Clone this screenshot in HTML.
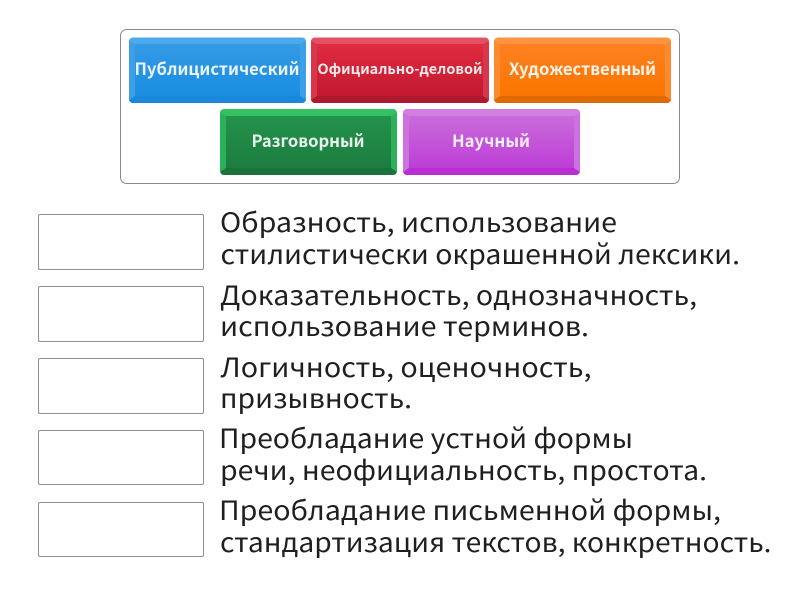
<!DOCTYPE html>
<html lang="ru"><head><meta charset="utf-8"><style>
html,body{margin:0;padding:0;background:#fff;width:800px;height:600px;overflow:hidden}
svg{display:block}
.t{font-family:"Noto Sans CJK SC","Liberation Sans",sans-serif;font-size:26.5px;fill:#1f1f1f}
.b{font-family:"Noto Sans CJK SC","Liberation Sans",sans-serif;font-weight:700;fill:#fff;fill-opacity:.9;font-size:16.5px;text-anchor:middle}
</style></head><body>
<svg width="800" height="600" viewBox="0 0 800 600" xmlns="http://www.w3.org/2000/svg">
<defs>
<linearGradient id="g1" x1="0" y1="0" x2="0" y2="1"><stop offset="0" stop-color="#359ae5"/><stop offset="1" stop-color="#1a8de2"/></linearGradient>
<linearGradient id="g2" x1="0" y1="0" x2="0" y2="1"><stop offset="0" stop-color="#e02a40"/><stop offset="1" stop-color="#c21a30"/></linearGradient>
<linearGradient id="g3" x1="0" y1="0" x2="0" y2="1"><stop offset="0" stop-color="#fd8122"/><stop offset="1" stop-color="#fb7600"/></linearGradient>
<linearGradient id="g4" x1="0" y1="0" x2="0" y2="1"><stop offset="0" stop-color="#23924b"/><stop offset="1" stop-color="#1c7d40"/></linearGradient>
<linearGradient id="g5" x1="0" y1="0" x2="0" y2="1"><stop offset="0" stop-color="#c96cdb"/><stop offset="1" stop-color="#bd3ed6"/></linearGradient>
</defs>
<rect x="120.500" y="29.500" width="559" height="154" rx="6" fill="#fff" stroke="#8a8a8a"/>

<!-- Button 1 -->
<rect x="129" y="37.500" width="177" height="65.500" rx="4" fill="#4ba9ec"/>
<path d="M129 96H306V99a4 4 0 0 1-4 4H133a4 4 0 0 1-4-4Z" fill="#1a88da"/>
<path d="M129 41L135 44V96L129 100Z" fill="#3c9fe8"/><path d="M306 41L300 44V96L306 100Z" fill="#3c9fe8"/>
<rect x="135" y="44" width="165" height="52" fill="url(#g1)"/>
<text class="b" x="217" y="75" textLength="165" lengthAdjust="spacingAndGlyphs">Публицистический</text>

<!-- Button 2 -->
<rect x="311" y="37.500" width="178" height="65.500" rx="4" fill="#e25164"/>
<path d="M311 96H489V99a4 4 0 0 1-4 4H315a4 4 0 0 1-4-4Z" fill="#ad1a2d"/>
<path d="M311 41L317 44V96L311 100Z" fill="#d9354b"/><path d="M489 41L483 44V96L489 100Z" fill="#d9354b"/>
<rect x="317" y="44" width="166" height="52" fill="url(#g2)"/>
<text class="b" x="400" y="74" style="font-size:14px" textLength="165" lengthAdjust="spacingAndGlyphs">Официально-деловой</text>

<!-- Button 3 -->
<rect x="494" y="37.500" width="177" height="65.500" rx="4" fill="#fe9440"/>
<path d="M494 96H671V99a4 4 0 0 1-4 4H498a4 4 0 0 1-4-4Z" fill="#e06a02"/>
<path d="M494 41L500 44V96L494 100Z" fill="#fe8a30"/><path d="M671 41L665 44V96L671 100Z" fill="#fe8a30"/>
<rect x="500" y="44" width="165" height="52" fill="url(#g3)"/>
<text class="b" x="582.500" y="75" textLength="147" lengthAdjust="spacingAndGlyphs">Художественный</text>

<!-- Button 4 -->
<rect x="220" y="109" width="177" height="65.500" rx="4" fill="#33c163"/>
<path d="M220 168H397V171a4 4 0 0 1-4 4H224a4 4 0 0 1-4-4Z" fill="#1b7339"/>
<path d="M220 113L226 116V168L220 172Z" fill="#2bb159"/><path d="M397 113L391 116V168L397 172Z" fill="#2bb159"/>
<rect x="226" y="116" width="165" height="52" fill="url(#g4)"/>
<text class="b" x="308" y="147" textLength="113" lengthAdjust="spacingAndGlyphs">Разговорный</text>

<!-- Button 5 -->
<rect x="403" y="109" width="177" height="65.500" rx="4" fill="#d27fe2"/>
<path d="M403 168H580V171a4 4 0 0 1-4 4H407a4 4 0 0 1-4-4Z" fill="#b92dd3"/>
<path d="M403 113L409 116V168L403 172Z" fill="#cc72de"/><path d="M580 113L574 116V168L580 172Z" fill="#cc72de"/>
<rect x="409" y="116" width="165" height="52" fill="url(#g5)"/>
<text class="b" x="491" y="147" textLength="78" lengthAdjust="spacingAndGlyphs">Научный</text>

<!-- Answer boxes -->
<rect x="38.500" y="214.500" width="165" height="55" rx="1.500" fill="#fff" stroke="#8f8f8f"/>
<rect x="38.500" y="286.500" width="165" height="55" rx="1.500" fill="#fff" stroke="#8f8f8f"/>
<rect x="38.500" y="358.500" width="165" height="55" rx="1.500" fill="#fff" stroke="#8f8f8f"/>
<rect x="38.500" y="430.500" width="165" height="54" rx="1.500" fill="#fff" stroke="#8f8f8f"/>
<rect x="38.500" y="502.500" width="165" height="54" rx="1.500" fill="#fff" stroke="#8f8f8f"/>

<!-- Descriptions -->
<text class="t" x="220" y="232" textLength="397" lengthAdjust="spacingAndGlyphs">Образность, использование</text>
<text class="t" x="220.500" y="264" textLength="519.500" lengthAdjust="spacingAndGlyphs">стилистически окрашенной лексики.</text>
<text class="t" x="220" y="305" textLength="477" lengthAdjust="spacingAndGlyphs">Доказательность, однозначность,</text>
<text class="t" x="220" y="336" textLength="369" lengthAdjust="spacingAndGlyphs">использование терминов.</text>
<text class="t" x="220.500" y="377" textLength="371" lengthAdjust="spacingAndGlyphs">Логичность, оценочность,</text>
<text class="t" x="220" y="408" textLength="192" lengthAdjust="spacingAndGlyphs">призывность.</text>
<text class="t" x="219" y="448" textLength="414" lengthAdjust="spacingAndGlyphs">Преобладание устной формы</text>
<text class="t" x="220" y="480" textLength="487" lengthAdjust="spacingAndGlyphs">речи, неофициальность, простота.</text>
<text class="t" x="219" y="520" textLength="502" lengthAdjust="spacingAndGlyphs">Преобладание письменной формы,</text>
<text class="t" x="220" y="552" textLength="551.500" lengthAdjust="spacingAndGlyphs">стандартизация текстов, конкретность.</text>
</svg>
</body></html>
